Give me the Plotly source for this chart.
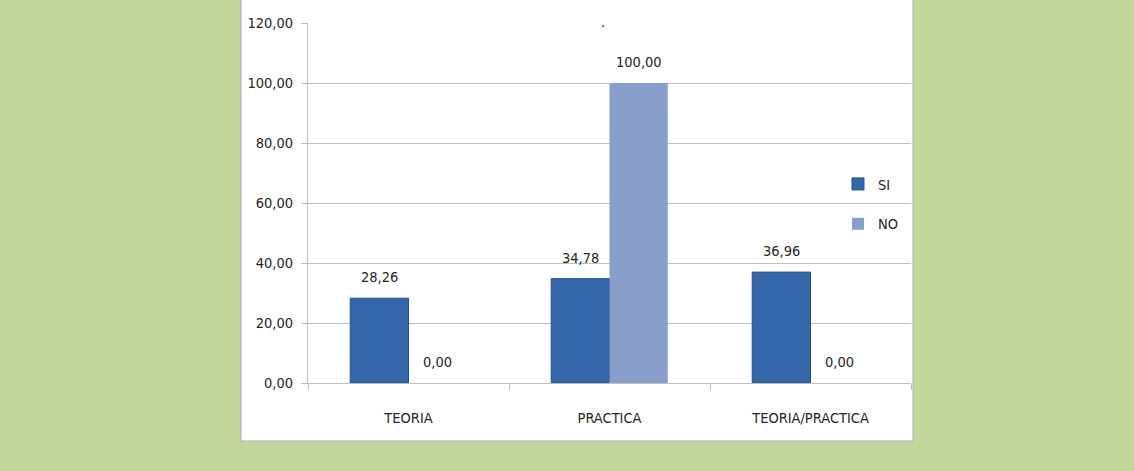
import plotly.graph_objects as go

categories = ["TEORIA", "PRACTICA", "TEORIA/PRACTICA"]
si_values = [28.26, 34.78, 36.96]
no_values = [0.00, 100.00, 0.00]
y_ticks = [0, 20, 40, 60, 80, 100, 120]

W, H = 1134, 471
L, R, T, B = 308, 911, 23, 383
font_family = "'Liberation Sans Narrow', 'Arial Narrow', 'DejaVu Sans Condensed', 'Open Sans', sans-serif"
FS = 14.5
BARGAP = 0.42

def px_x(p):
    return (p - L) / (R - L)

def px_y(p):
    return (B - p) / (B - T)

def fmt(v):
    return f"{v:.2f}".replace(".", ",")

fig = go.Figure()
fig.add_trace(go.Bar(
    x=categories, y=si_values, name="SI", legendgroup="si",
    marker=dict(color="#3667aa", line=dict(color="#274f88", width=1)),
    cliponaxis=False,
))
fig.add_trace(go.Bar(
    x=categories, y=no_values, name="NO", legendgroup="no",
    marker=dict(color="#889fcb", line=dict(width=0)),
    cliponaxis=False,
))

# value labels placed above each bar (offset = half of a bar width in category units)
half = (1 - BARGAP) / 4
annotations = []
for series, off in ((si_values, -half), (no_values, half)):
    for i, v in enumerate(series):
        annotations.append(dict(
            x=i + off, y=v, xref="x", yref="y", text=fmt(v),
            showarrow=False, yanchor="bottom", yshift=11,
            font=dict(size=FS, family=font_family, color="#262626"),
        ))
annotations.append(dict(
    text=".", xref="paper", yref="paper", x=px_x(603), y=px_y(12),
    showarrow=False, font=dict(size=14, color="#000000"),
))

fig.update_layout(
    width=W, height=H,
    margin=dict(l=L, r=W - R, t=T, b=H - B, pad=0),
    paper_bgcolor="#c3d69b",
    plot_bgcolor="#ffffff",
    barmode="group", bargap=BARGAP, bargroupgap=0,
    font=dict(family=font_family, size=FS, color="#262626"),
    separators=",.",
    showlegend=True,
    legend=dict(
        x=px_x(838), y=px_y(168), xanchor="left", yanchor="top",
        bgcolor="rgba(0,0,0,0)", traceorder="grouped", tracegroupgap=18,
        itemwidth=30, font=dict(size=FS, family=font_family, color="#262626"),
    ),
    shapes=[dict(
        type="rect", xref="paper", yref="paper", layer="below",
        x0=px_x(241), x1=px_x(913), y0=px_y(441), y1=px_y(-2),
        fillcolor="#ffffff", line=dict(color="#a9a9c4", width=1),
    )],
    annotations=annotations,
)

fig.update_yaxes(
    range=[0, 120], tickvals=y_ticks, tickformat=".2f",
    showgrid=True, gridcolor="#bfbfbf", gridwidth=1,
    showline=True, linecolor="#bfbfbf", linewidth=1,
    ticks="outside", ticklen=6, tickcolor="#bfbfbf",
    ticklabelstandoff=5, zeroline=False,
    tickfont=dict(size=FS, family=font_family, color="#262626"),
)
fig.update_xaxes(
    showgrid=False, showline=True, linecolor="#bfbfbf", linewidth=1,
    ticks="outside", tickson="boundaries", ticklen=6, tickcolor="#bfbfbf",
    ticklabelstandoff=22,
    tickfont=dict(size=FS, family=font_family, color="#262626"),
)

fig.write_html(
    "out.html",
    config={"displayModeBar": False},
    post_script="document.body.style.margin='0';document.body.style.background='#c3d69b';",
)
